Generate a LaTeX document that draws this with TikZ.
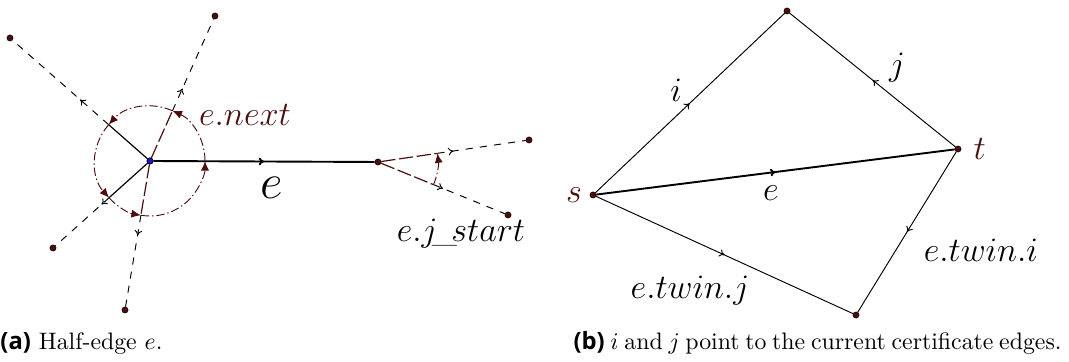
\documentclass[tikz,border=0pt]{standalone}
\usepackage{amsmath}
\usepackage{fontspec}
\usepackage{xcolor}
\usepackage{tikz}
\usetikzlibrary{arrows.meta, decorations.markings, positioning, calc}
\newfontfamily\capfont{Open Sans}
\definecolor{DarkMaroon}{HTML}{4B0F0F}
\definecolor{VertexBlue}{HTML}{1414C8}

\begin{document}
\begin{tikzpicture}[x=4.2pt, y=4.2pt,
    vtx/.style={circle, fill=DarkMaroon, draw=black, line width=0.2pt, inner sep=0pt, minimum size=2.6pt},
    lbl/.style={inner sep=1pt, font=\Large},
    midarrow/.style={postaction={decorate}, decoration={markings,
        mark=at position 0.5 with {\arrow{To[length=2.2pt, width=3.2pt]}}}},
    halfedge/.style={line width=0.4pt, midarrow},
    outerseg/.style={dashed, line width=0.4pt},
    innerseg/.style={dash pattern=on 6pt off 1.5pt, DarkMaroon, line width=0.5pt},
    rotarc/.style={dash pattern=on 3.5pt off 1.2pt on 0.6pt off 1.2pt, DarkMaroon, line width=0.4pt,
        -{Latex[length=4pt, width=3.4pt]}}
  ]
    \useasboundingbox (0,0) rectangle (106.9,36.2);

    % (a) half-edge e
    \node[vtx, fill=VertexBlue] (c) at (15.0,20.1) {};
    \node[vtx] (v) at (37.8,20.0) {};
    \node[vtx] (ul) at (1.0,32.4) {};
    \node[vtx] (ur) at (21.5,34.6) {};
    \node[vtx] (ll) at (5.3,11.4) {};
    \node[vtx] (lo) at (12.5,5.2) {};
    \node[vtx] (vu) at (52.9,22.2) {};
    \node[vtx] (vl) at (50.8,14.7) {};

    \coordinate (cul) at ($(c)+(138.7:5.5)$);
    \coordinate (cur) at ($(c)+(65.9:5.5)$);
    \coordinate (cll) at ($(c)+(221.9:5.5)$);
    \coordinate (clo) at ($(c)+(260.5:5.5)$);
    \coordinate (vvu) at ($(v)+(8.3:6)$);
    \coordinate (vvl) at ($(v)+(-22.2:6)$);

    \draw[outerseg] (cul) -- (ul);
    \draw[outerseg] (cur) -- (ur);
    \draw[outerseg] (cll) -- (ll);
    \draw[outerseg] (clo) -- (lo);
    \draw[outerseg] (vvu) -- (vu);
    \draw[outerseg] (vvl) -- (vl);
    \draw[line width=0.5pt] (c) -- (cul);
    \draw[line width=0.5pt] (c) -- (cll);
    \draw[innerseg] (c) -- (cur);
    \draw[innerseg] (c) -- (clo);
    \draw[innerseg] (v) -- (vvu);
    \draw[innerseg] (v) -- (vvl);
    \path[midarrow] (c) -- (ul);
    \path[midarrow] (c) -- (ur);
    \path[midarrow] (c) -- (ll);
    \path[midarrow] (c) -- (lo);
    \path[midarrow] (v) -- (vu);
    \path[midarrow] (v) -- (vl);
    \draw[halfedge, line width=0.8pt] (c) -- (v);

    % rotation round the vertices
    \draw[rotarc] ($(c)+(0:5.5)$) arc[start angle=0, end angle=65.9, radius=5.5];
    \draw[rotarc] (cur) arc[start angle=65.9, end angle=138.7, radius=5.5];
    \draw[rotarc] (cul) arc[start angle=138.7, end angle=221.9, radius=5.5];
    \draw[rotarc] (cll) arc[start angle=221.9, end angle=260.5, radius=5.5];
    \draw[rotarc] (clo) arc[start angle=260.5, end angle=360, radius=5.5];
    \draw[rotarc] (vvl) arc[start angle=-22.2, end angle=8.3, radius=6];
    \node[vtx, fill=VertexBlue] at (c) {};

    \node[lbl, text=DarkMaroon] (nextlbl) at (24.5,24.7) {$e.next$};
    \node[lbl, font=\huge] (elbl) at (27.2,17.4) {$e$};
    \node[lbl, anchor=base] (jstartlbl) at (46.1,12.0) {$e.j\mkern-3mu\_\mkern-3mu start$};

    % (b) certificate edges
    \node[vtx] (s) at (59.3,16.7) {};
    \node[vtx] (top) at (78.7,35.1) {};
    \node[vtx] (t) at (95.8,21.3) {};
    \node[vtx] (bot) at (85.6,4.7) {};

    \draw[halfedge] (s) -- (top);
    \draw[halfedge] (t) -- (top);
    \draw[halfedge, line width=0.8pt] (s) -- (t);
    \draw[halfedge] (s) -- (bot);
    \draw[halfedge] (t) -- (bot);

    \node[lbl, text=DarkMaroon, left=2pt of s] (slbl) {$s$};
    \node[lbl, text=DarkMaroon, right=4pt of t] (tlbl) {$t$};
    \node[lbl] (ilbl) at (67.6,27.2) {$i$};
    \node[lbl] (jlbl) at (89.7,29.4) {$j$};
    \node[lbl] (e2lbl) at (77.1,16.9) {$e$};
    \node[lbl] (twinjlbl) at (69.0,7.1) {$e.twin.j$};
    \node[lbl] (twinilbl) at (98.1,11.2) {$e.twin.i$};

    % captions
    \node[anchor=base west, inner sep=0pt] (capa) at (0,1.2)
        {{\capfont\bfseries (a)} Half-edge $e$.};
    \node[anchor=base east, inner sep=0pt] (capb) at (106.2,1.2)
        {\spaceskip=2.4pt {\capfont\bfseries (b)} $i$ and $j$ point to the current certificate edges.};
\end{tikzpicture}
\end{document}
